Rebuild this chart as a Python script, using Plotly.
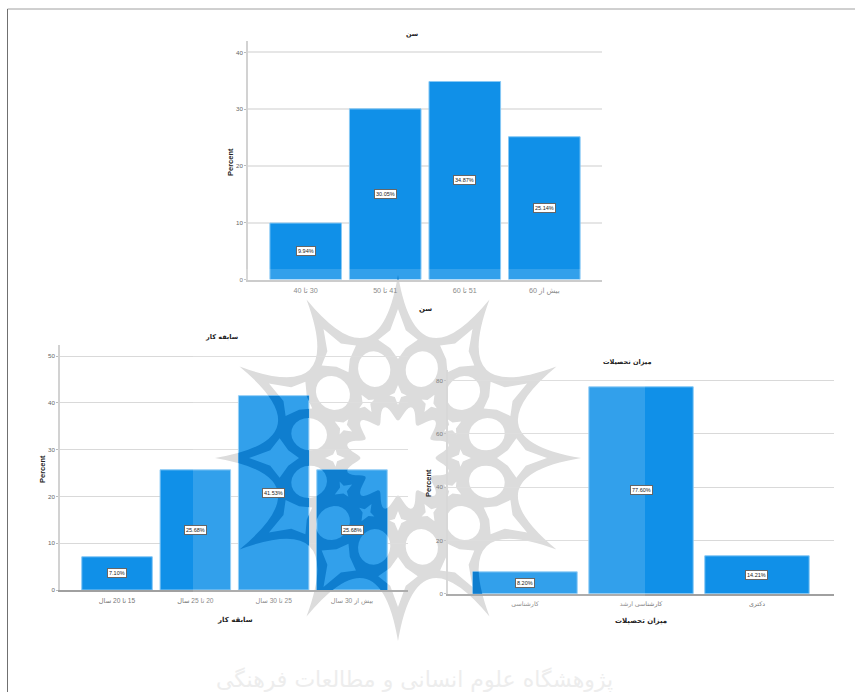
import math
import plotly.graph_objects as go

# Survey distributions (percent of respondents)
age_title = "سن"
age_labels = ["30 تا 40", "41 تا 50", "51 تا 60", "بیش از 60"]
age_values = [9.94, 30.05, 34.87, 25.14]

work_title = "سابقه کار"
work_labels = ["15 تا 20 سال", "20 تا 25 سال", "25 تا 30 سال", "بیش از 30 سال"]
work_values = [7.10, 25.68, 41.53, 25.68]

edu_title = "میزان تحصیلات"
edu_labels = ["کارشناسی", "کارشناسی ارشد", "دکتری"]
edu_values = [8.20, 77.60, 14.21]

PAGE_W, PAGE_H = 855, 692
BAR = "#1090e8"
BAR_EDGE = "#86c8f5"
FONT = "Liberation Sans, DejaVu Sans, sans-serif"


def fx(px):
    return px / PAGE_W


def fy(py):
    return 1 - py / PAGE_H


def rtl(s):
    # Force right-to-left ordering for mixed Persian and digit labels
    return "\u202b" + s + "\u202c"


panels = [
    dict(title=age_title, labels=age_labels, values=age_values,
         left=248, right=602, top=41, bottom=279.5, ymax=42.0, dtick=10,
         xrange=[-0.725, 3.725], grid="#e6e6e6", gw=2, base="#c4c4c4", tick=7.2, standoff=3,
         title_xy=(412, 34), xt_xy=(425, 309), yt_xy=(230, 162)),
    dict(title=work_title, labels=work_labels, values=work_values,
         left=60, right=408, top=345, bottom=590, ymax=52.35, dtick=10,
         xrange=[-0.728, 3.715], grid="#d9d9d9", gw=1.3, base="#a0a0a0", tick=6.6, standoff=3,
         title_xy=(222, 337), xt_xy=(235, 620), yt_xy=(42, 469)),
    dict(title=edu_title, labels=edu_labels, values=edu_values,
         left=448, right=834, top=370, bottom=593.7, ymax=83.9, dtick=20,
         xrange=[-0.664, 2.664], grid="#d9d9d9", gw=1.3, base="#a0a0a0", tick=6.3, standoff=3,
         title_xy=(627, 362), xt_xy=(641, 621), yt_xy=(428, 483)),
]

fig = go.Figure()
annotations = []
layout = {}

for i, p in enumerate(panels, start=1):
    suffix = "" if i == 1 else str(i)
    fig.add_trace(go.Bar(
        x=list(range(len(p["values"]))), y=p["values"],
        width=0.9, xaxis=f"x{suffix}", yaxis=f"y{suffix}",
        marker=dict(color=BAR, line=dict(color=BAR_EDGE, width=1)),
        hoverinfo="skip", showlegend=False,
    ))
    layout[f"xaxis{suffix}"] = dict(
        domain=[fx(p["left"]), fx(p["right"])], range=p["xrange"],
        anchor=f"y{suffix}", tickmode="array",
        tickvals=list(range(len(p["labels"]))),
        ticktext=[rtl(s) for s in p["labels"]],
        tickfont=dict(size=p["tick"], color="#777777", family=FONT),
        ticks="", ticklabelstandoff=p["standoff"], showgrid=False, zeroline=False,
        showline=True, linecolor=p["base"], linewidth=1.5,
    )
    layout[f"yaxis{suffix}"] = dict(
        domain=[fy(p["bottom"]), fy(p["top"])], range=[0, p["ymax"]],
        anchor=f"x{suffix}", dtick=p["dtick"], tick0=0,
        tickfont=dict(size=6.2, color="#666666", family=FONT),
        ticks="outside", ticklen=2, tickcolor="#bbbbbb",
        showgrid=True, gridcolor=p["grid"], gridwidth=p["gw"], zeroline=False,
        showline=True, linecolor="#d2d2d2", linewidth=1.5,
    )
    # Value tags centred on each bar
    for j, v in enumerate(p["values"]):
        annotations.append(dict(
            x=j, y=v / 2, xref=f"x{suffix}", yref=f"y{suffix}",
            xanchor="center", yanchor="middle",
            text=f"{v:.2f}%", showarrow=False,
            font=dict(size=5.5, color="#222222", family=FONT),
            bgcolor="#ffffff", bordercolor="#666666", borderwidth=1, borderpad=1,
        ))
    # Panel title, category axis title and value axis title
    for (x, y), text, size in (
        (p["title_xy"], rtl(p["title"]), 6.5),
        (p["xt_xy"], rtl(p["title"]), 7),
    ):
        annotations.append(dict(
            x=fx(x), y=fy(y), xref="paper", yref="paper", text=f"<b>{text}</b>",
            xanchor="center", yanchor="middle",
            showarrow=False, font=dict(size=size, color="#222222", family="DejaVu Sans"),
        ))
    annotations.append(dict(
        x=fx(p["yt_xy"][0]), y=fy(p["yt_xy"][1]), xref="paper", yref="paper",
        xanchor="center", yanchor="middle",
        text="<b>Percent</b>", textangle=-90, showarrow=False,
        font=dict(size=7.5, color="#222222", family=FONT),
    ))

# Institute emblem: twelve-pointed rosette built from rings of cut-outs
CX, CY = 398, 458
TIP_R, CTRL_R = 183, 73


def polar(r, deg):
    a = math.radians(deg)
    return CX + r * math.sin(a), CY - r * math.cos(a)


def pt(xy):
    return f"{fx(xy[0]):.5f},{fy(xy[1]):.5f}"


def closed(points):
    return "M" + " L".join(pt(q) for q in points) + " Z"


def rosette_path():
    parts = []
    # Outer silhouette with concave edges between the points
    outer = "M" + pt(polar(TIP_R, 0))
    for k in range(12):
        outer += f" Q{pt(polar(CTRL_R, 15 + 30 * k))} {pt(polar(TIP_R, 30 + 30 * k))}"
    parts.append(outer + " Z")
    # Central flower
    parts.append(closed([
        polar(45 + 7.5 * math.cos(math.radians(12 * (d - 15))), d)
        for d in range(0, 360, 2)
    ]))
    for k in range(12):
        th = 30 * k
        # Rounded blobs in the middle ring
        mid = math.radians(th + 15)
        bx, by = polar(92, th + 15)
        blob = []
        for d in range(0, 360, 15):
            a = math.radians(d)
            rad, tan = 18 * math.cos(a), 16 * math.sin(a)
            blob.append((bx + rad * math.sin(mid) + tan * math.cos(mid),
                         by - rad * math.cos(mid) + tan * math.sin(mid)))
        parts.append(closed(blob))
        # Small diamonds around the flower
        parts.append(closed([
            polar(53, th), polar(61, th + 3), polar(63, th + 8), polar(65, th + 3),
            polar(73, th), polar(65, th - 3), polar(63, th - 8), polar(61, th - 3),
        ]))
        # Concave-sided kites under each point
        parts.append(closed([
            polar(99, th), polar(110, th + 4), polar(120, th + 9.5), polar(128, th + 3.5),
            polar(149, th), polar(128, th - 3.5), polar(120, th - 9.5), polar(110, th - 4),
        ]))
    return " ".join(parts)


emblem = rosette_path()

shapes = [
    # Emblem as neutral grey on the page, behind the grid and the bars
    dict(type="path", path=emblem, xref="paper", yref="paper", layer="below",
         fillcolor="#d6d6d6", line=dict(width=0)),
    # Pale panel laid over the bars
    dict(type="rect", xref="paper", yref="paper", layer="above",
         x0=fx(193), x1=fx(645), y0=fy(692), y1=fy(269),
         fillcolor="rgba(255,255,255,0.146)", line=dict(width=0)),
    # Emblem in deep blue where it crosses a bar; clipped to the bars after drawing
    dict(type="path", path=emblem, xref="paper", yref="paper", layer="above",
         fillcolor="rgb(15,126,207)", line=dict(width=0)),
    # Page frame
    dict(type="line", xref="paper", yref="paper", x0=fx(7.5), x1=1, y0=fy(9), y1=fy(9),
         line=dict(color="#a0a0a0", width=1)),
    dict(type="line", xref="paper", yref="paper", x0=fx(7.5), x1=fx(7.5), y0=fy(9), y1=0,
         line=dict(color="#707070", width=1)),
]

# Institute name under the emblem
annotations.append(dict(
    x=fx(414), y=fy(680), xref="paper", yref="paper", xanchor="center", yanchor="middle",
    text=rtl("پژوهشگاه علوم انسانی و مطالعات فرهنگی"), showarrow=False,
    font=dict(size=22, color="#ededed", family="DejaVu Sans"),
))

fig.update_layout(
    width=PAGE_W, height=PAGE_H, margin=dict(l=0, r=0, t=0, b=0, autoexpand=False),
    paper_bgcolor="#ffffff", plot_bgcolor="rgba(0,0,0,0)",
    bargap=0.1, annotations=annotations, shapes=shapes, showlegend=False,
    font=dict(family=FONT),
    **layout,
)

# Restrict the blue emblem layer to the rendered bar rectangles
clip_js = """
var svg = document.querySelector('.main-svg');
var origin = svg.getBoundingClientRect();
var ns = 'http://www.w3.org/2000/svg';
var clip = document.createElementNS(ns, 'clipPath');
clip.setAttribute('id', 'emblem-on-bars');
clip.setAttribute('clipPathUnits', 'userSpaceOnUse');
document.querySelectorAll('.bars .point path').forEach(function (bar) {
  var b = bar.getBoundingClientRect();
  var r = document.createElementNS(ns, 'rect');
  r.setAttribute('x', b.left - origin.left);
  r.setAttribute('y', b.top - origin.top);
  r.setAttribute('width', b.width);
  r.setAttribute('height', b.height);
  clip.appendChild(r);
});
svg.appendChild(clip);
document.querySelectorAll('.shapelayer path').forEach(function (el) {
  if (el.style.fill.replace(/\\s/g, '') === 'rgb(15,126,207)') {
    el.setAttribute('clip-path', 'url(#emblem-on-bars)');
  }
});
"""

fig.write_html("out.html", post_script=clip_js,
               config=dict(displayModeBar=False), default_width=PAGE_W, default_height=PAGE_H)
